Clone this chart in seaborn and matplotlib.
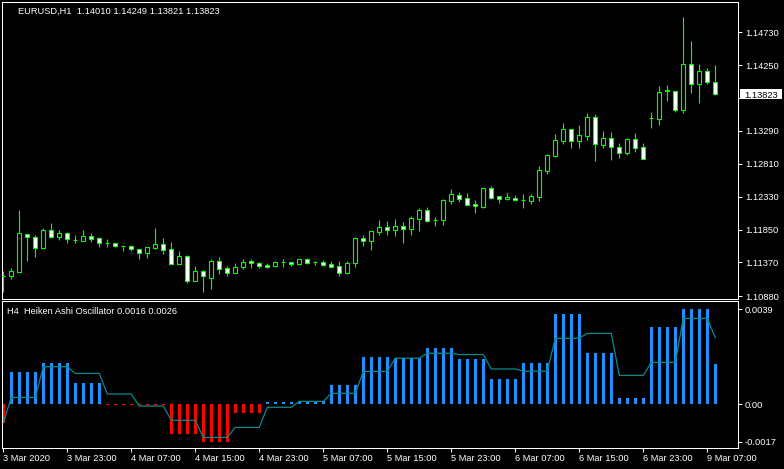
import numpy as np
import pandas as pd
import matplotlib
matplotlib.use("Agg")
import matplotlib.pyplot as plt
import seaborn as sns
from matplotlib.patches import Rectangle

# ---------------- data (EURUSD H1) ----------------
opens = [1.11175, 1.11177, 1.11235, 1.11786, 1.11737, 1.11577, 1.11844, 1.11746, 1.11796, 1.11698,
         1.11688, 1.11756, 1.11723, 1.11659, 1.11650, 1.11610, 1.11606, 1.11562, 1.11513, 1.11586,
         1.11635, 1.11562, 1.11352, 1.11460, 1.11104, 1.11241, 1.11148, 1.11391, 1.11285, 1.11221,
         1.11299, 1.11391, 1.11362, 1.11337, 1.11323, 1.11377, 1.11377, 1.11352, 1.11416, 1.11377,
         1.11377, 1.11348, 1.11318, 1.11221, 1.11358, 1.11727, 1.11688, 1.11815, 1.11888, 1.11848,
         1.11902, 1.11863, 1.12009, 1.12136, 1.11994, 1.11994, 1.12272, 1.12355, 1.12307, 1.12224,
         1.12184, 1.12453, 1.12336, 1.12301, 1.12311, 1.12286, 1.12272, 1.12330, 1.12710, 1.12924,
         1.13148, 1.13314, 1.13148, 1.13221, 1.13494, 1.13089, 1.13187, 1.13056, 1.12973, 1.13173,
         1.13051, 1.13475, 1.13465, 1.13878, 1.13873, 1.13592, 1.14263, 1.13971, 1.14165, 1.14010]
highs = [1.11245, 1.11289, 1.12136, 1.11790, 1.11771, 1.11869, 1.11951, 1.11844, 1.11815, 1.11767,
         1.11844, 1.11796, 1.11746, 1.11708, 1.11659, 1.11625, 1.11620, 1.11571, 1.11595, 1.11873,
         1.11727, 1.11669, 1.11537, 1.11479, 1.11318, 1.11260, 1.11416, 1.11450, 1.11318, 1.11358,
         1.11416, 1.11416, 1.11377, 1.11362, 1.11396, 1.11421, 1.11380, 1.11418, 1.11435, 1.11396,
         1.11406, 1.11391, 1.11391, 1.11391, 1.11746, 1.11771, 1.11828, 1.11990, 1.11975, 1.12005,
         1.11961, 1.12048, 1.12165, 1.12180, 1.12034, 1.12297, 1.12443, 1.12399, 1.12380, 1.12282,
         1.12455, 1.12482, 1.12340, 1.12384, 1.12351, 1.12370, 1.12374, 1.12774, 1.12954, 1.13246,
         1.13411, 1.13316, 1.13377, 1.13557, 1.13538, 1.13294, 1.13275, 1.13114, 1.13183, 1.13265,
         1.13114, 1.13562, 1.13946, 1.13961, 1.13878, 1.14958, 1.14599, 1.14263, 1.14214, 1.14249]
lows = [1.10939, 1.11129, 1.11230, 1.11396, 1.11454, 1.11575, 1.11727, 1.11698, 1.11659, 1.11659,
        1.11686, 1.11669, 1.11600, 1.11600, 1.11596, 1.11542, 1.11542, 1.11425, 1.11435, 1.11567,
        1.11494, 1.11350, 1.11350, 1.11075, 1.11100, 1.10943, 1.10987, 1.11202, 1.11172, 1.11218,
        1.11270, 1.11289, 1.11294, 1.11294, 1.11299, 1.11299, 1.11323, 1.11350, 1.11352, 1.11337,
        1.11318, 1.11294, 1.11177, 1.11206, 1.11308, 1.11615, 1.11552, 1.11771, 1.11771, 1.11756,
        1.11659, 1.11771, 1.11834, 1.11961, 1.11907, 1.11921, 1.12228, 1.12257, 1.12210, 1.12097,
        1.12170, 1.12292, 1.12243, 1.12282, 1.12275, 1.12170, 1.12224, 1.12272, 1.12666, 1.12910,
        1.13104, 1.13046, 1.13046, 1.13158, 1.12856, 1.13041, 1.12866, 1.12895, 1.12935, 1.12987,
        1.12880, 1.13338, 1.13384, 1.13732, 1.13571, 1.13548, 1.13849, 1.13703, 1.13971, 1.13821]
closes = [1.11172, 1.11241, 1.11796, 1.11737, 1.11577, 1.11844, 1.11746, 1.11796, 1.11708, 1.11698,
          1.11752, 1.11717, 1.11650, 1.11659, 1.11606, 1.11610, 1.11562, 1.11513, 1.11591, 1.11640,
          1.11552, 1.11352, 1.11460, 1.11104, 1.11241, 1.11177, 1.11391, 1.11279, 1.11221, 1.11299,
          1.11377, 1.11355, 1.11323, 1.11308, 1.11372, 1.11377, 1.11348, 1.11416, 1.11367, 1.11377,
          1.11333, 1.11308, 1.11221, 1.11362, 1.11727, 1.11688, 1.11825, 1.11888, 1.11844, 1.11902,
          1.11863, 1.12015, 1.12136, 1.11980, 1.11994, 1.12278, 1.12365, 1.12301, 1.12213, 1.12190,
          1.12453, 1.12304, 1.12301, 1.12330, 1.12278, 1.12286, 1.12345, 1.12720, 1.12935, 1.13154,
          1.13314, 1.13148, 1.13231, 1.13494, 1.13095, 1.13187, 1.13051, 1.12973, 1.13173, 1.13046,
          1.12885, 1.13475, 1.13854, 1.13885, 1.13592, 1.14263, 1.13971, 1.14165, 1.14000, 1.13823]

# Heiken Ashi Oscillator (H4 values shown per H1 bar) and its signal line
osc_values = [-0.00076, 0.00130, 0.00130, 0.00130, 0.00130, 0.00166, 0.00166, 0.00166, 0.00166, 0.00084,
              0.00084, 0.00084, 0.00084, -0.00005, -0.00005, -0.00005, -0.00005, -0.00005, -0.00005, -0.00005,
              -0.00005, -0.00121, -0.00121, -0.00121, -0.00121, -0.00154, -0.00154, -0.00154, -0.00154, -0.00035,
              -0.00035, -0.00035, -0.00035, 0.00008, 0.00008, 0.00008, 0.00008, 0.00012, 0.00012, 0.00012,
              0.00012, 0.00077, 0.00077, 0.00077, 0.00077, 0.00192, 0.00192, 0.00192, 0.00192, 0.00186,
              0.00186, 0.00186, 0.00186, 0.00228, 0.00228, 0.00228, 0.00228, 0.00183, 0.00183, 0.00183,
              0.00183, 0.00102, 0.00102, 0.00102, 0.00102, 0.00167, 0.00167, 0.00167, 0.00167, 0.00367,
              0.00367, 0.00367, 0.00367, 0.00208, 0.00208, 0.00208, 0.00208, 0.00024, 0.00024, 0.00024,
              0.00024, 0.00314, 0.00314, 0.00314, 0.00314, 0.00387, 0.00387, 0.00387, 0.00387, 0.00163]
signal_values = [-0.00076, 0.00027, 0.00027, 0.00027, 0.00027, 0.00152, 0.00152, 0.00152, 0.00152, 0.00125,
                 0.00125, 0.00125, 0.00125, 0.00041, 0.00041, 0.00041, 0.00041, -0.00008, -0.00008, -0.00008,
                 -0.00008, -0.00066, -0.00066, -0.00066, -0.00066, -0.00136, -0.00136, -0.00136, -0.00136, -0.00095,
                 -0.00095, -0.00095, -0.00095, -0.00013, -0.00013, -0.00013, -0.00013, 0.00011, 0.00011, 0.00011,
                 0.00011, 0.00044, 0.00044, 0.00044, 0.00044, 0.00133, 0.00133, 0.00133, 0.00133, 0.00187,
                 0.00187, 0.00187, 0.00187, 0.00207, 0.00207, 0.00207, 0.00207, 0.00202, 0.00202, 0.00202,
                 0.00202, 0.00143, 0.00143, 0.00143, 0.00143, 0.00134, 0.00134, 0.00134, 0.00134, 0.00268,
                 0.00268, 0.00268, 0.00268, 0.00288, 0.00288, 0.00288, 0.00288, 0.00117, 0.00117, 0.00117,
                 0.00117, 0.00170, 0.00170, 0.00170, 0.00170, 0.00349, 0.00349, 0.00349, 0.00349, 0.00270]

time_labels = ["3 Mar 2020", "3 Mar 23:00", "4 Mar 07:00", "4 Mar 15:00", "4 Mar 23:00", "5 Mar 07:00",
               "5 Mar 15:00", "5 Mar 23:00", "6 Mar 07:00", "6 Mar 15:00", "6 Mar 23:00", "9 Mar 07:00"]
time_label_bars = [0, 8, 16, 24, 32, 40, 48, 56, 64, 72, 80, 88]
price_ticks = [1.14730, 1.14250, 1.13770, 1.13290, 1.12810, 1.12330, 1.11850, 1.11370, 1.10880]
osc_tick_labels = ["0.0039", "0.00", "-0.0017"]

main_title = "EURUSD,H1  1.14010 1.14249 1.13821 1.13823"
osc_title = "H4  Heiken Ashi Oscillator 0.0016 0.0026"

# ---------------- style ----------------
GREEN = "#00FF00"
BLUE = "#1E90FF"
RED = "#FF0000"
TEAL = "#0A8A8A"
FS = 6.7

sns.set_theme(style="dark", rc={
    "figure.facecolor": "black", "axes.facecolor": "black", "axes.edgecolor": "white",
    "axes.linewidth": 0.75, "text.color": "white", "xtick.color": "white", "ytick.color": "white",
    "axes.grid": False,
})
plt.rcParams["font.family"] = ["Liberation Sans", "DejaVu Sans"]

W, H = 784, 469
fig = plt.figure(figsize=(W / 100, H / 100), dpi=100)
ax1 = fig.add_axes([2 / W, 1 - 299 / H, 736 / W, 297 / H])
ax2 = fig.add_axes([2 / W, 1 - 448 / H, 736 / W, 147 / H])

n = len(opens)
xb = np.arange(n)
O = np.array(opens); Hh = np.array(highs); L = np.array(lows); C = np.array(closes)

# ---------------- candles ----------------
ax1.vlines(xb, L, Hh, color=GREEN, lw=0.8, zorder=2)
body_bottom = np.minimum(O, C)
body_h = np.abs(C - O)
faces = np.where(C < O, "white", "black")
ax1.bar(xb, body_h, bottom=body_bottom, width=0.5, color=faces, edgecolor=GREEN,
        linewidth=0.8, zorder=3)

xlim = (-0.1625, 91.8375)
ax1.set_xlim(*xlim)
ax1.set_ylim(1.108366, 1.15173)
ax1.set_xticks([])
ax1.yaxis.tick_right()
last_close = closes[-1]
# the tick label that sits under the current-price box is hidden by it in the reference
price_labels = ["" if abs(p - last_close) < 0.0008 else f"{p:.5f}" for p in price_ticks]
ax1.set_yticks(price_ticks, price_labels)
ax1.tick_params(axis="y", length=3, width=0.75, pad=2, labelsize=FS, colors="white")
for s in ax1.spines.values():
    s.set_color("white"); s.set_linewidth(0.75)

# ---------------- oscillator ----------------
osc = np.array(osc_values)
df = pd.DataFrame({"bar": xb, "osc": osc, "dir": np.where(osc >= 0, "up", "down")})
sns.barplot(data=df, x="bar", y="osc", hue="dir", palette={"up": BLUE, "down": RED},
            native_scale=True, width=0.42, dodge=False, legend=False, errorbar=None,
            saturation=1, linewidth=0, ax=ax2)
sns.lineplot(x=xb, y=np.array(signal_values), color=TEAL, lw=0.9, ax=ax2, zorder=4)

ax2.set_xlim(*xlim)
ax2.set_ylim(-0.00179, 0.00420)
ax2.set_xlabel(""); ax2.set_ylabel("")
ax2.yaxis.tick_right()
ax2.set_yticks([osc.max(), 0.0, osc.min()], osc_tick_labels)
ax2.tick_params(axis="y", length=3, width=0.75, pad=2, labelsize=FS, colors="white")
ax2.set_xticks(time_label_bars, time_labels)
for lbl in ax2.get_xticklabels():
    lbl.set_ha("left")
ax2.tick_params(axis="x", length=3, width=0.75, pad=1.5, labelsize=FS, colors="white",
                bottom=True)
for s in ax2.spines.values():
    s.set_color("white"); s.set_linewidth(0.75)

# ---------------- texts ----------------
fig.text(18 / W, 1 - 14 / H, main_title, fontsize=FS, color="white", va="baseline", ha="left")
fig.text(7 / W, 1 - 314 / H, osc_title, fontsize=FS, color="white", va="baseline", ha="left")

# current price box
_, ypix = ax1.transData.transform((0, last_close))
fig.add_artist(Rectangle((740 / W, (ypix - 5) / H), 42 / W, 10 / H, transform=fig.transFigure,
                         facecolor="white", edgecolor="none", zorder=5))
fig.text(744 / W, ypix / H, f"{last_close:.5f}", fontsize=FS, color="black",
         va="center_baseline", ha="left", zorder=6)

fig.savefig("out.png", dpi=100, facecolor="black")
